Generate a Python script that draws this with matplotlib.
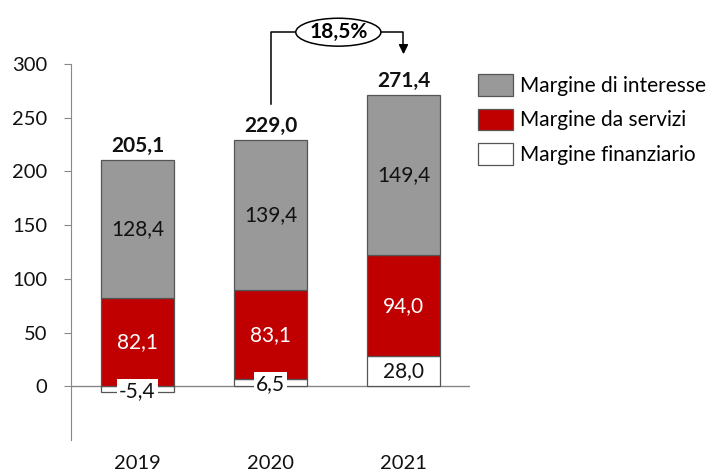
import matplotlib
matplotlib.use("Agg")
import matplotlib.pyplot as plt
from matplotlib.patches import Patch, Ellipse
import numpy as np

plt.rcParams['font.family'] = ['Lato', 'DejaVu Sans']

years = ['2019', '2020', '2021']
finanziario = [-5.4, 6.5, 28.0]
servizi = [82.1, 83.1, 94.0]
interesse = [128.4, 139.4, 149.4]
totals = [205.1, 229.0, 271.4]
growth_label = '18,5%'
series_names = ['Margine di interesse', 'Margine da servizi', 'Margine finanziario']

def fmt(v):
    return f"{v:.1f}".replace('.', ',')

GRAY = '#999999'
RED = '#C00000'
EDGE = '#555555'

fig = plt.figure(figsize=(7.15, 4.74), dpi=100)
ax = fig.add_axes([71/715, (474-440)/474, (470-71)/715, (440-64)/474])

x = np.arange(len(years))
w = 0.556
fin = np.array(finanziario)
ser = np.array(servizi)
inte = np.array(interesse)
ser_bottom = np.maximum(fin, 0)
int_bottom = ser_bottom + ser
tops = int_bottom + inte

ax.bar(x, fin, w, color='white', edgecolor=EDGE, linewidth=0.9, zorder=2)
ax.bar(x, ser, w, bottom=ser_bottom, color=RED, edgecolor=EDGE, linewidth=0.9, zorder=2)
ax.bar(x, inte, w, bottom=int_bottom, color=GRAY, edgecolor=EDGE, linewidth=0.9, zorder=2)

fs = 15
tfs = 14.5
for i in range(len(years)):
    ax.text(x[i], int_bottom[i] + inte[i] / 2, fmt(inte[i]), ha='center', va='center',
            fontsize=fs, color='#111111', zorder=4)
    ax.text(x[i], ser_bottom[i] + ser[i] / 2, fmt(ser[i]), ha='center', va='center',
            fontsize=fs, color='white', zorder=4)
    if abs(fin[i]) < 15:
        ax.text(x[i], fin[i] / 2 - 1.5, fmt(fin[i]), ha='center', va='center',
                fontsize=fs, color='#111111', zorder=4,
                bbox=dict(boxstyle='square,pad=0.1', facecolor='white', edgecolor='none'))
    else:
        ax.text(x[i], fin[i] / 2, fmt(fin[i]), ha='center', va='center',
                fontsize=fs, color='#111111', zorder=4)
    ax.annotate(fmt(totals[i]), (x[i], tops[i]), xytext=(0, 3), textcoords='offset points',
                ha='center', va='bottom', fontsize=fs, fontweight='bold', color='#111111')

ax.axhline(0, color='#888888', linewidth=1.0, zorder=1)

ax.set_xlim(-0.5, 2.5)
ax.set_ylim(-50, 300)
ax.set_yticks([0, 50, 100, 150, 200, 250, 300])
ax.set_xticks(x)
ax.set_xticklabels(years)
for s in ['top', 'right', 'bottom']:
    ax.spines[s].set_visible(False)
ax.spines['left'].set_color('#888888')
ax.tick_params(axis='y', direction='out', length=5, color='#888888', labelsize=tfs,
               labelcolor='#111111', pad=12)
ax.tick_params(axis='x', length=0, labelsize=tfs, labelcolor='#111111', pad=11)

# growth bracket
yb = 329.6
ax.plot([x[1], x[1], x[1] + 0.19], [262.5, yb, yb], color='black', lw=1.1, clip_on=False)
ax.plot([x[1] + 0.83, x[2], x[2]], [yb, yb, 315], color='black', lw=1.1, clip_on=False)
ax.annotate('', xy=(x[2], 306.5), xytext=(x[2], 316),
            arrowprops=dict(arrowstyle='-|>', color='black', lw=1.1, mutation_scale=14),
            annotation_clip=False)
ell = Ellipse((x[1] + 0.51, yb), 0.64, 26, facecolor='white', edgecolor='black',
              lw=1.1, clip_on=False, zorder=5)
ax.add_patch(ell)
ax.text(x[1] + 0.51, yb, growth_label, ha='center', va='center', fontsize=fs,
        fontweight='bold', zorder=6, clip_on=False)

handles = [Patch(facecolor=GRAY, edgecolor=EDGE, linewidth=0.9),
           Patch(facecolor=RED, edgecolor=EDGE, linewidth=0.9),
           Patch(facecolor='white', edgecolor=EDGE, linewidth=0.9)]
fig.legend(handles, series_names, loc='upper left', bbox_to_anchor=(474/715, 1 - 70/474),
           frameon=False, fontsize=fs, handlelength=1.68, handleheight=1.2,
           labelspacing=0.62, handletextpad=0.35, borderaxespad=0, borderpad=0.2)

fig.savefig('out.png', dpi=100)
